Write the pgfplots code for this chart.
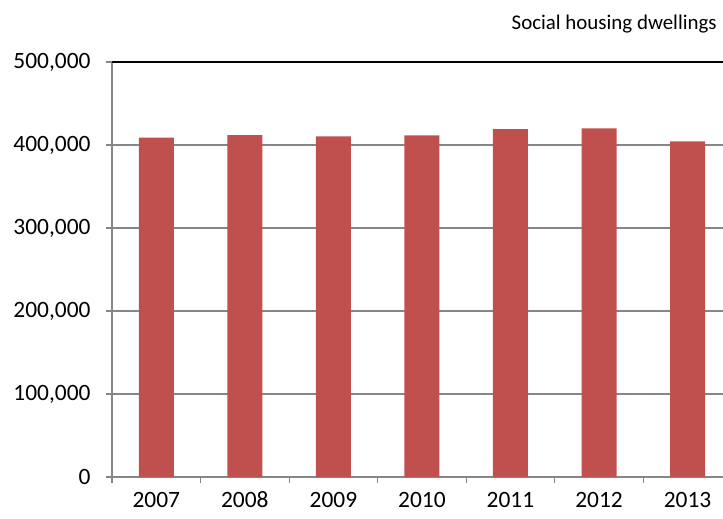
\documentclass[border=0pt]{standalone}
\usepackage{fontspec}
\setmainfont{Carlito}
\usepackage{pgfplots}
\pgfplotsset{compat=1.18}
\definecolor{barred}{HTML}{C0504D}
\definecolor{gridgray}{HTML}{868686}

\begin{document}
\begin{tikzpicture}
\begin{axis}[
	name=ax,
	scale only axis,
	width=611bp,
	height=415bp,
	xmin=-0.5, xmax=6.40,
	ymin=0, ymax=500000,
	scaled y ticks=false,
	axis x line*=bottom,
	axis y line*=left,
	axis line style={gridgray, line width=1.2bp},
	xtick={0,...,6},
	xticklabels={2007,2008,2009,2010,2011,2012,2013},
	minor xtick={-0.5,0.5,...,5.5},
	major x tick style={draw=none},
	minor x tick style={gridgray, line width=1.2bp},
	ytick={0,100000,200000,300000,400000,500000},
	yticklabels={0,{100,000},{200,000},{300,000},{400,000},{500,000}},
	y tick style={gridgray, line width=1.2bp},
	tick align=outside,
	major tick length=6bp,
	minor tick length=6bp,
	ymajorgrids=true,
	grid style={gridgray, line width=1.2bp},
	ticklabel style={font=\fontsize{23.5}{28}\selectfont, text=black},
	xticklabel style={anchor=base, yshift=-25bp},
	yticklabel style={xshift=-12bp},
	clip=false,
]
	\addplot[ybar, bar width=35bp, fill=barred, draw=none] coordinates {
		(0,409000)
		(1,412000)
		(2,410500)
		(3,411500)
		(4,419000)
		(5,420000)
		(6,404500)};
	% dark frame line at the top
	\draw[black, line width=1.6bp] (rel axis cs:0,1) -- (rel axis cs:1,1);
	\node[anchor=base east, inner sep=0pt, font=\fontsize{21}{25}\selectfont]
		at (rel axis cs:0.990,1.0783) {Social housing dwellings};
\end{axis}
\pgfresetboundingbox
\path ([xshift=-112bp,yshift=-42bp]ax.south west) rectangle ([yshift=62bp]ax.north east);
\end{tikzpicture}
\end{document}
